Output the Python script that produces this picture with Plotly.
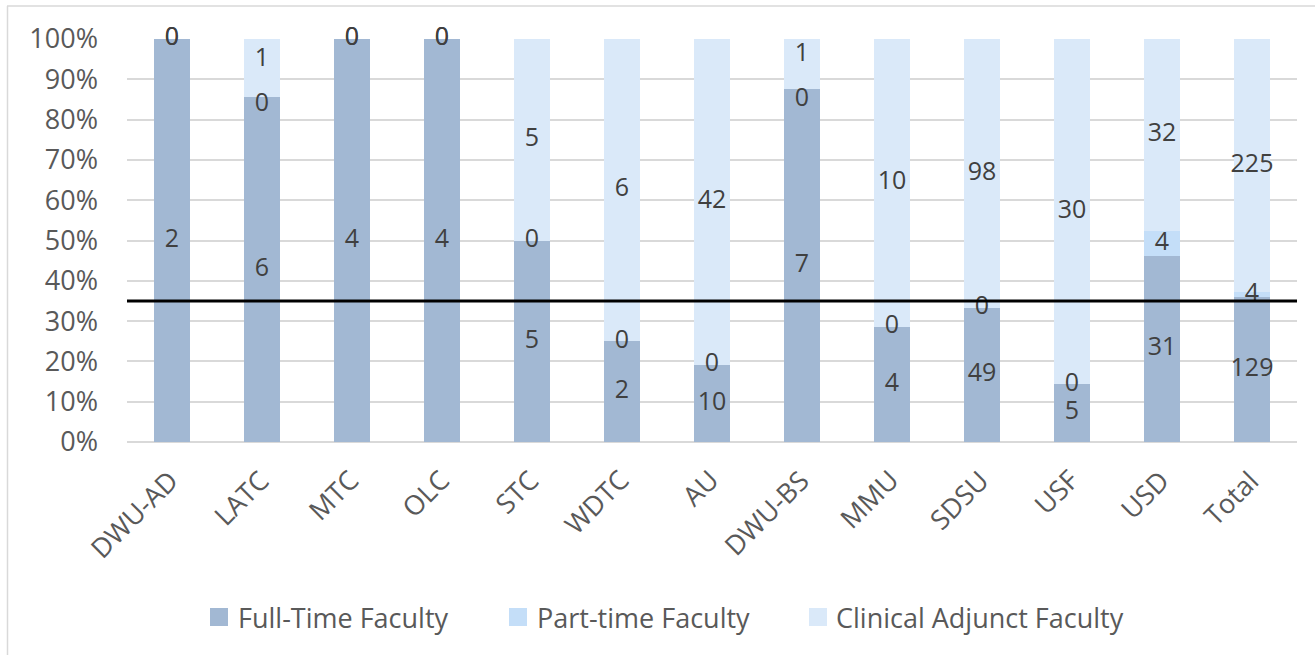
import plotly.graph_objects as go

categories = ["DWU-AD", "LATC", "MTC", "OLC", "STC", "WDTC", "AU", "DWU-BS",
              "MMU", "SDSU", "USF", "USD", "Total"]
full_time = [2, 6, 4, 4, 5, 2, 10, 7, 4, 49, 5, 31, 129]
part_time = [0, 0, 0, 0, 0, 0, 0, 0, 0, 0, 0, 4, 4]
clinical_adjunct = [0, 1, 0, 0, 5, 6, 42, 1, 10, 98, 30, 32, 225]
series_names = ["Full-Time Faculty", "Part-time Faculty", "Clinical Adjunct Faculty"]
series_colors = ["#A2B8D3", "#C4DEF8", "#DAE9F9"]
threshold = 0.35

W, H = 1315, 655
L, R, T, B = 127, 18, 39, 213
PW, PH = W - L - R, H - T - B

def px_x(px):
    return (px - L) / PW

def px_y(py):
    return (H - B - py) / PH

FONT = "Open Sans"
FS = 27
FS_LAB = 25
series = [full_time, part_time, clinical_adjunct]

fig = go.Figure()
for name, vals, col in zip(series_names, series, series_colors):
    fig.add_trace(go.Bar(x=categories, y=vals, name=name, marker_color=col,
                         marker_line_width=0, showlegend=False, hoverinfo="skip"))

# data labels at the middle of each normalised segment; a zero label crowded
# by the label above it is nudged apart from it
MIN_SEP = 45 / PH
totals = [a + b + c for a, b, c in zip(*series)]
lab_x, lab_y, lab_t = [], [], []
for i, cat in enumerate(categories):
    cum = 0
    ys = []
    for vals in series:
        frac = vals[i] / totals[i]
        ys.append(cum + frac / 2)
        cum += frac
    for k in range(len(ys) - 1):
        gap = ys[k + 1] - ys[k]
        if series[k][i] == 0 and 0 < gap < MIN_SEP:
            push = (MIN_SEP - gap) / 2
            ys[k] -= push
            ys[k + 1] += push
    for vals, y in zip(series, ys):
        lab_x.append(cat)
        lab_y.append(y)
        lab_t.append(str(vals[i]))
fig.add_trace(go.Scatter(x=lab_x, y=lab_y, text=lab_t, mode="text",
                         textposition="middle center",
                         textfont=dict(family=FONT, size=FS_LAB, color="#404040"),
                         showlegend=False, hoverinfo="skip", cliponaxis=False))

shapes = [
    dict(type="line", xref="paper", yref="y", x0=0, x1=1, y0=threshold, y1=threshold,
         line=dict(color="black", width=3)),
    # chart border fragments
    dict(type="line", xref="paper", yref="paper", x0=px_x(7), x1=px_x(1320),
         y0=px_y(6), y1=px_y(6), line=dict(color="#D9D9D9", width=1.5)),
    dict(type="line", xref="paper", yref="paper", x0=px_x(7.5), x1=px_x(7.5),
         y0=px_y(6), y1=px_y(660), line=dict(color="#D9D9D9", width=1.5)),
]
annotations = []
# rotated category labels
for cat in categories:
    annotations.append(dict(xref="x", yref="paper", x=cat, y=px_y(459), xshift=17,
                            xanchor="right", yanchor="top", textangle=-45, text=cat,
                            showarrow=False,
                            font=dict(family=FONT, size=FS, color="#595959")))
leg_sq = [210, 509, 809]
leg_tx = [236, 535, 834]
for name, col, sx, tx in zip(series_names, series_colors, leg_sq, leg_tx):
    shapes.append(dict(type="rect", xref="paper", yref="paper",
                       x0=px_x(sx), x1=px_x(sx + 18), y0=px_y(608), y1=px_y(626),
                       fillcolor=col, line=dict(width=0)))
    annotations.append(dict(xref="paper", yref="paper", x=px_x(tx), y=px_y(617),
                            xanchor="left", yanchor="middle", text=name, showarrow=False,
                            font=dict(family=FONT, size=FS, color="#595959")))

fig.update_layout(
    width=W, height=H,
    margin=dict(l=L, r=R, t=T, b=B, pad=0),
    barmode="stack", barnorm="fraction", bargap=0.6,
    plot_bgcolor="white", paper_bgcolor="white",
    font=dict(family=FONT, size=FS, color="#595959"),
    shapes=shapes, annotations=annotations,
    xaxis=dict(range=[-0.5, len(categories) - 0.5], autorange=False,
               showticklabels=False, showgrid=False, zeroline=False, showline=False,
               ticks=""),
    yaxis=dict(range=[0, 1], dtick=0.1, tickformat=".0%", showgrid=True,
               gridcolor="#D9D9D9", gridwidth=1.5, zeroline=True,
               zerolinecolor="#D9D9D9", zerolinewidth=1.5, showline=False,
               ticks="", ticklabelstandoff=28,
               tickfont=dict(family=FONT, size=FS, color="#595959")),
)

fig.write_html("out.html", config={"displayModeBar": False},
               post_script="document.body.style.margin='0';document.body.style.overflow='hidden';")
